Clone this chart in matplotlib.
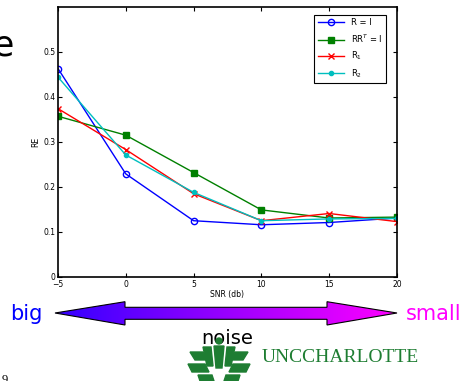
"""RE vs SNR slide panel: four constraint variants plus the noise arrow."""

import matplotlib
matplotlib.use("Agg")
import matplotlib.pyplot as plt
import numpy as np
from matplotlib.patches import Polygon

snr_db = [-5, 0, 5, 10, 15, 20]
re_identity = [0.463, 0.229, 0.125, 0.116, 0.121, 0.131]
re_orthogonal = [0.357, 0.315, 0.232, 0.149, 0.131, 0.133]
re_r1 = [0.374, 0.283, 0.185, 0.125, 0.141, 0.123]
re_r2 = [0.444, 0.271, 0.188, 0.125, 0.129, 0.130]
series_labels = ["R = I", "RR$^T$ = I", "R$_1$", "R$_2$"]

fig = plt.figure(figsize=(4.6, 3.81), dpi=100)

# overlay in pixel coordinates for the slide decorations
bg = fig.add_axes([0, 0, 1, 1], zorder=0)
bg.set_xlim(0, 460)
bg.set_ylim(381, 0)
bg.axis("off")

ax = fig.add_axes([0.126, 0.273, 0.737, 0.709], zorder=2)
ax.plot(snr_db, re_identity, "-o", color="blue", mfc="none", ms=4.5, lw=1,
        label=series_labels[0])
ax.plot(snr_db, re_orthogonal, "-s", color="#008000", ms=4, lw=1,
        label=series_labels[1])
ax.plot(snr_db, re_r1, "-x", color="red", ms=4.5, lw=1, label=series_labels[2])
ax.plot(snr_db, re_r2, "-o", color="#00bfbf", ms=3, lw=1,
        label=series_labels[3])

ax.set_xlim(-5, 20)
ax.set_ylim(0, 0.6)
ax.set_xticks(snr_db)
ax.set_yticks([0, 0.1, 0.2, 0.3, 0.4, 0.5])
ax.set_yticklabels(["0", "0.1", "0.2", "0.3", "0.4", "0.5"])
ax.tick_params(direction="in", top=True, right=True, labelsize=5.5, length=3,
               pad=2)
ax.set_xlabel("SNR (db)", fontsize=5.5, labelpad=1)
ax.set_ylabel("RE", fontsize=5.5, labelpad=2)
for s in ax.spines.values():
    s.set_linewidth(1.2)
leg = ax.legend(loc="upper right", bbox_to_anchor=(0.98, 0.985), fontsize=6,
                handlelength=3.2, borderpad=0.4, labelspacing=0.6,
                fancybox=False, framealpha=1, edgecolor="black")
leg.get_frame().set_linewidth(0.8)

# big <-> small gradient arrow
arrow_pts = [(55, 313), (125, 301.7), (125, 307.3), (327, 307.3), (327, 301.7),
             (397, 313), (327, 325), (327, 319.3), (125, 319.3), (125, 325)]
grad = np.zeros((2, 256, 3))
grad[:, :, 0] = np.linspace(0.2, 1.0, 256)
grad[:, :, 2] = 1.0
im = bg.imshow(grad, extent=[55, 397, 325, 301], aspect="auto", zorder=1)
arrow = Polygon(arrow_pts, closed=True, facecolor="none", edgecolor="black",
                lw=0.8, zorder=2)
bg.add_patch(arrow)
im.set_clip_path(arrow)

bg.text(43, 314, "big", color="blue", fontsize=15, ha="right", va="center")
bg.text(461, 314, "small", color="#ff00ff", fontsize=15, ha="right",
        va="center")
bg.text(227, 339, "noise", color="black", fontsize=14, ha="center",
        va="center", zorder=3)
bg.text(14, 45, "e", color="black", fontsize=25, ha="right", va="center")
bg.text(2, 386, "9", color="black", fontsize=9, family="Liberation Serif",
        va="bottom")

# UNC Charlotte logo
green = "#1e7d32"
bg.text(262, 358, "UNCCHARLOTTE", color=green, fontsize=14,
        family="Liberation Serif", va="center", ha="left")
bg.add_patch(plt.Circle((219, 341), 3, color=green, zorder=4))
logo_shapes = [
    [(214, 346), (224, 346), (222, 368), (216, 368)],
    [(203, 347), (211, 347), (213, 366), (207, 366)],
    [(227, 347), (235, 347), (231, 366), (225, 366)],
    [(190, 352), (203, 352), (208, 360), (195, 360)],
    [(235, 352), (248, 352), (243, 360), (230, 360)],
    [(188, 364), (205, 364), (209, 372), (192, 372)],
    [(233, 364), (250, 364), (246, 372), (229, 372)],
    [(198, 375), (212, 375), (214, 381), (200, 381)],
    [(226, 375), (240, 375), (238, 381), (224, 381)],
]
for pts in logo_shapes:
    bg.add_patch(Polygon(pts, closed=True, color=green, zorder=2))

fig.savefig("out.png", dpi=100)
